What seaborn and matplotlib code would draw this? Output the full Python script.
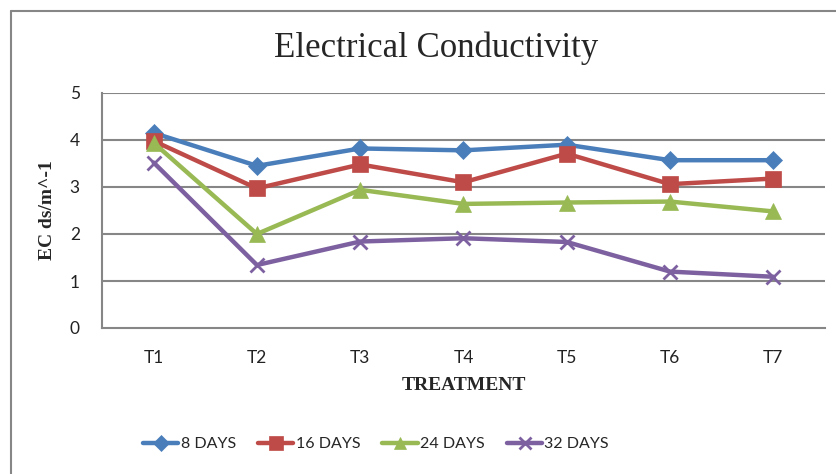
import matplotlib
matplotlib.use("Agg")
import matplotlib.pyplot as plt
import seaborn as sns
import pandas as pd
from matplotlib.lines import Line2D

treatments = ["T1", "T2", "T3", "T4", "T5", "T6", "T7"]
days_8 = [4.15, 3.45, 3.82, 3.78, 3.90, 3.57, 3.57]
days_16 = [3.98, 2.97, 3.48, 3.10, 3.71, 3.06, 3.18]
days_24 = [3.94, 2.00, 2.94, 2.64, 2.67, 2.69, 2.48]
days_32 = [3.52, 1.34, 1.84, 1.91, 1.83, 1.20, 1.09]
series_names = ["8 DAYS", "16 DAYS", "24 DAYS", "32 DAYS"]

colors = ["#4A7EBB", "#BE4B48", "#98B954", "#7D60A0"]
markers = ["D", "s", "^", "x"]
msizes = [9, 12, 11, 10]

rows = []
for name, vals in zip(series_names, [days_8, days_16, days_24, days_32]):
    for i, (t, v) in enumerate(zip(treatments, vals)):
        rows.append({"pos": i, "Treatment": t, "EC": v, "Series": name})
df = pd.DataFrame(rows)

sns.set_theme(style="white")
plt.rcParams["font.family"] = ["Lato", "DejaVu Sans"]

fig = plt.figure(figsize=(8.37, 4.74), dpi=100)
ax = fig.add_axes([102 / 837, 1 - 328 / 474, 723 / 837, 235 / 474])

grid_c = "#868686"
for y in [1, 2, 3, 4, 5]:
    ax.axhline(y, color=grid_c, lw=1.5, zorder=0)

for name, c, m, ms in zip(series_names, colors, markers, msizes):
    sub = df[df["Series"] == name]
    sns.lineplot(data=sub, x="pos", y="EC", ax=ax, color=c, lw=3.2,
                 marker=m, markersize=ms, markeredgecolor=c,
                 markeredgewidth=2 if m == "x" else 0.5, legend=False,
                 zorder=3)

ax.set_xlim(-0.5, 6.5)
ax.set_ylim(0, 5)
ax.set_xticks(range(len(treatments)))
ax.set_xticklabels(treatments)
ax.set_yticks([0, 1, 2, 3, 4, 5])
ax.tick_params(axis="both", length=0, labelsize=12.5, colors="#222222")
ax.tick_params(axis="x", pad=16)
ax.tick_params(axis="y", pad=16)

for s in ["top", "right"]:
    ax.spines[s].set_visible(False)
for s in ["left", "bottom"]:
    ax.spines[s].set_color(grid_c)
    ax.spines[s].set_linewidth(1.5)

ax.set_xlabel("TREATMENT", fontfamily="Liberation Serif", fontweight="bold",
              fontsize=14, labelpad=8)
ax.set_ylabel("EC ds/m^-1", fontfamily="Liberation Serif", fontweight="bold",
              fontsize=14, labelpad=10)

fig.text(436 / 837, 1 - 48 / 474, "Electrical Conductivity",
         fontfamily="Liberation Serif", fontsize=25, ha="center", va="center")

handles = [Line2D([0], [0], color=c, lw=3.2, marker=m, markersize=ms * 0.85,
                  markeredgecolor=c, markeredgewidth=2 if m == "x" else 0.5)
           for c, m, ms in zip(colors, markers, msizes)]
fig.legend(handles, series_names, loc="center", ncol=4,
           bbox_to_anchor=(376 / 837, 1 - 444 / 474), frameon=False,
           fontsize=11.5, handlelength=2.2, handletextpad=0.15,
           columnspacing=1.4)

# outer chart border (left and top edges)
fig.add_artist(Line2D([11 / 837, 11 / 837], [0, 1 - 11 / 474],
                      transform=fig.transFigure, color=grid_c, lw=1.5))
fig.add_artist(Line2D([11 / 837, 1], [1 - 11 / 474, 1 - 11 / 474],
                      transform=fig.transFigure, color=grid_c, lw=1.5))

fig.savefig("out.png", dpi=100)
